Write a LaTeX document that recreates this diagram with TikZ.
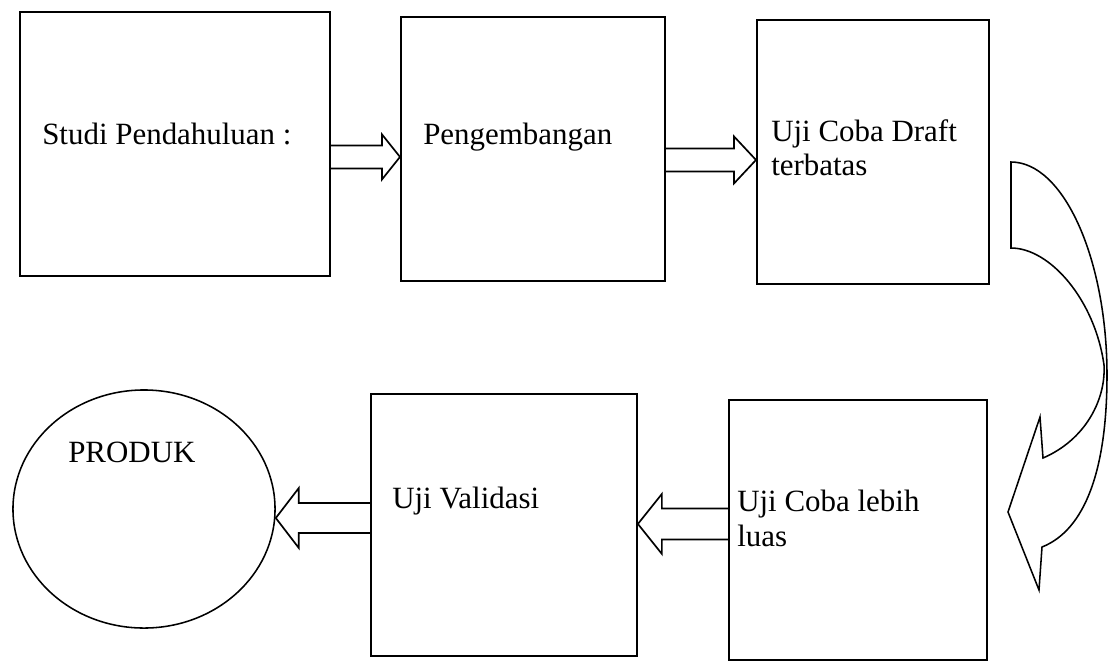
\documentclass[tikz,border=0pt]{standalone}
\usepackage{fontspec}
\setmainfont{Liberation Serif}
\usetikzlibrary{calc,shapes.geometric}
\newcommand\pxu{0.025cm}
% block arrow: #1 start anchor, #2 tip point, #3 shaft half width, #4 head half width, #5 signed head length
\newcommand\blockarr[5]{%
  \draw[blk] let \p1=(#1), \p2=(#2) in
    ({\x1},{\y2+#3*\pxu}) -- ({\x2+(#5)*\pxu},{\y2+#3*\pxu}) -- ({\x2+(#5)*\pxu},{\y2+#4*\pxu})
    -- ({\x2},{\y2}) -- ({\x2+(#5)*\pxu},{\y2-#4*\pxu}) -- ({\x2+(#5)*\pxu},{\y2-#3*\pxu}) -- ({\x1},{\y2-#3*\pxu});}
\begin{document}
\begin{tikzpicture}[x=0.025cm,y=-0.025cm,
  box/.style={draw,line width=1.3pt,rectangle,inner sep=0pt,anchor=north west},
  lbl/.style={anchor=base west,inner sep=0pt,font=\fontsize{22}{26}\selectfont},
  blk/.style={draw,line width=1.2pt,line join=miter}]
\useasboundingbox (0,0) rectangle (1114,660);
% boxes
\node[box,minimum width=7.75cm,minimum height=6.6cm] (b1) at (19,11) {};
\node[box,minimum width=6.6cm,minimum height=6.6cm] (b2) at (400,16) {};
\node[box,minimum width=5.8cm,minimum height=6.6cm] (b3) at (756,19) {};
\node[box,minimum width=6.65cm,minimum height=6.55cm] (uv) at (370,393) {};
\node[box,minimum width=6.45cm,minimum height=6.5cm] (ucl) at (728,399) {};
\node[draw,ellipse,line width=1.1pt,inner sep=0pt,minimum width=6.55cm,minimum height=5.95cm] (prod) at (144,509) {};
% labels
\node[lbl] (t1) at (42,144) {Studi Pendahuluan :};
\node[lbl] (t2) at (423,144) {Pengembangan};
\node[lbl] (t3a) at (771,141) {Uji Coba Draft};
\node[lbl] (t3b) at (771,175) {terbatas};
\node[lbl] (t4) at (68,462) {PRODUK};
\node[lbl] (t5) at (392,508) {Uji Validasi};
\node[lbl] (t6a) at (737,511) {Uji Coba lebih};
\node[lbl] (t6b) at (737,546) {luas};
% block arrows
\blockarr{b1.east}{$(b2.west)+(0,8)$}{11.5}{22.5}{-18}
\blockarr{b2.east}{$(b3.west)+(0,8)$}{11.5}{23.5}{-22}
\blockarr{ucl.west}{$(uv.east)+(0,-1)$}{15.5}{30}{24}
\blockarr{uv.west}{$(prod.east)+(0,9)$}{15}{30}{23}
% curved arrow
\draw[blk,line width=1.1pt] (1011,248) -- (1011,162)
  .. controls (1064,162) and (1107,260) .. (1107,375)
  .. controls (1107,470) and (1085,530) .. (1042,547)
  -- (1039,590) -- (1008,512) -- (1040,417) -- (1043,458)
  .. controls (1085,440) and (1106,400) .. (1104,365)
  .. controls (1095,300) and (1050,248) .. (1011,248) -- cycle;
\end{tikzpicture}
\end{document}
